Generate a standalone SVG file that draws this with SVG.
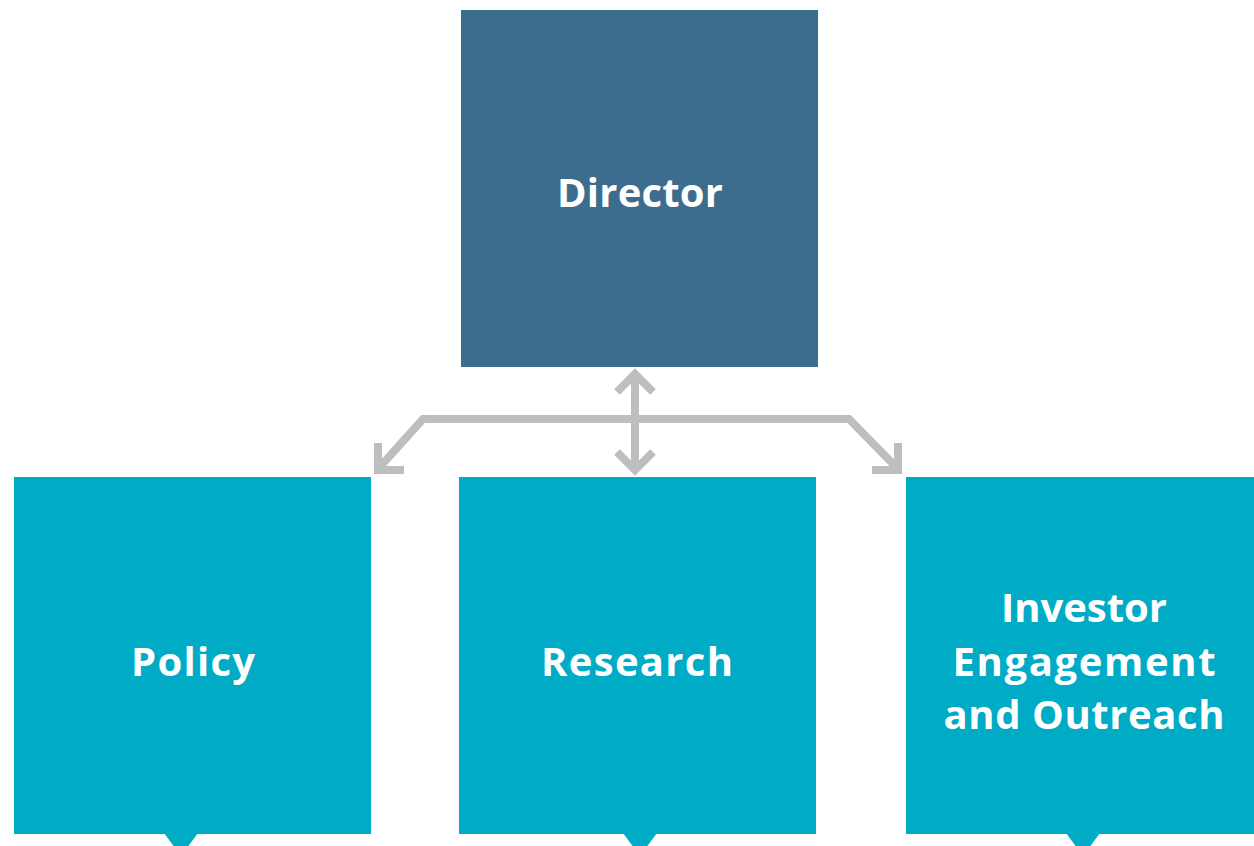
<svg xmlns="http://www.w3.org/2000/svg" width="1254" height="846" viewBox="0 0 1254 846">
<style>
.dir{fill:#3d6d8e}
.unit{fill:#00abc6}
.lbl{fill:#ffffff;font-family:"Open Sans","Liberation Sans",sans-serif;font-weight:700;font-size:40px;text-anchor:middle}
.conn{fill:none;stroke:#bdbec0;stroke-width:8;stroke-linejoin:miter;stroke-linecap:butt}
</style>
<rect width="1254" height="846" fill="#ffffff"/>
<g id="director">
<rect class="dir" x="461" y="10" width="357" height="357"/>
<text class="lbl" x="640" y="207" textLength="166" lengthAdjust="spacing">Director</text>
</g>
<g id="policy">
<rect class="unit" x="14" y="477" width="357" height="357"/>
<polygon class="unit" points="164,833 198,833 181,856"/>
<text class="lbl" x="193" y="676" textLength="124" lengthAdjust="spacing">Policy</text>
</g>
<g id="research">
<rect class="unit" x="459" y="477" width="357" height="357"/>
<polygon class="unit" points="623,833 657,833 640,856"/>
<text class="lbl" x="637" y="676" textLength="192" lengthAdjust="spacing">Research</text>
</g>
<g id="investor">
<rect class="unit" x="906" y="477" width="357" height="357"/>
<polygon class="unit" points="1066,833 1100,833 1083,856"/>
<text class="lbl" x="1084" y="622" textLength="166" lengthAdjust="spacing">Investor</text>
<text class="lbl" x="1084" y="676" textLength="263" lengthAdjust="spacing">Engagement</text>
<text class="lbl" x="1084" y="729" textLength="281" lengthAdjust="spacing">and Outreach</text>
</g>
<g id="connectors">
<line class="conn" x1="635" y1="377" x2="635" y2="466"/>
<polyline class="conn" points="617,392 635,374 653,392"/>
<polyline class="conn" points="617,452 635,470 653,452"/>
<polyline class="conn" points="378,469 423,419 849,419 898,469"/>
<polyline class="conn" points="378,443 378,470 404,470"/>
<polyline class="conn" points="898,443 898,470 872,470"/>
</g>
</svg>
